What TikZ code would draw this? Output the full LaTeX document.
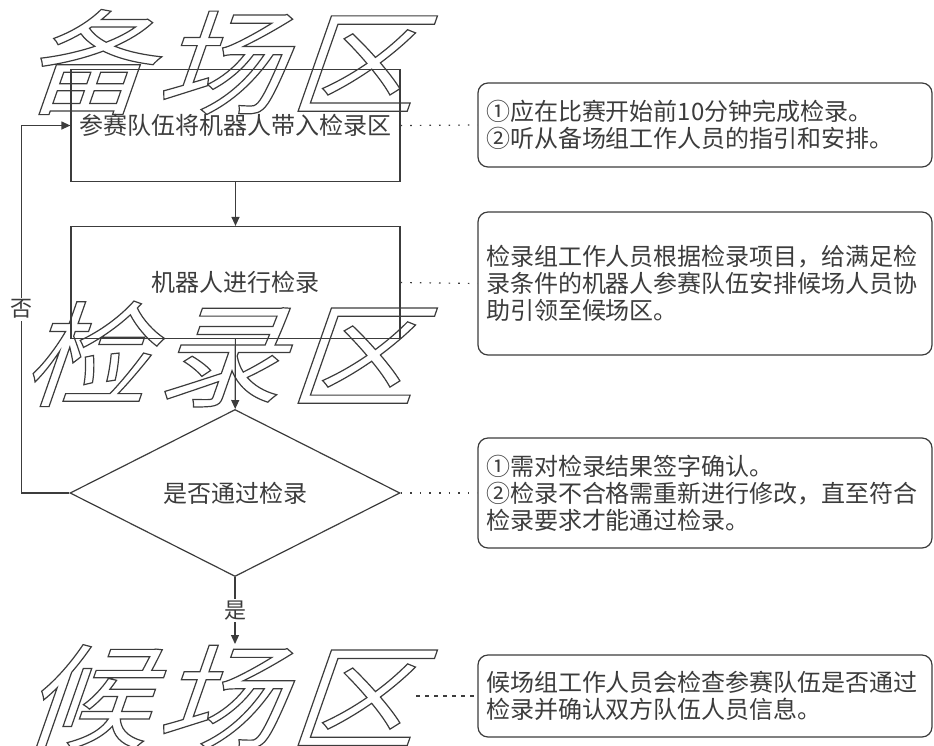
\documentclass[tikz,border=0pt]{standalone}
\usepackage{fontspec}
\usepackage{color}
\usepackage{tikz}
\usetikzlibrary{shapes.geometric,arrows.meta}
\setmainfont{Noto Sans CJK SC}
\newfontfamily\zonefont[FakeSlant=0.35, FakeStretch=1.12]{Noto Sans CJK SC}
\definecolor{inkgray}{HTML}{3C3C3C}
% hollow letters for the zone titles
\newcommand{\zonetext}[1]{\special{pdf:literal direct 1 Tr 0.6 w}#1\special{pdf:literal direct 0 Tr}}

\begin{document}
\begin{tikzpicture}[x=0.5pt, y=-0.5pt, inkgray, line width=0.6pt,
    >={Triangle[length=4.5pt,width=4pt]},
    stepbox/.style={draw, inner sep=0pt, minimum width=164.5pt, minimum height=56pt, font=\fontsize{12}{14}\selectfont},
    checkbox/.style={draw, diamond, aspect=2, inner sep=0pt, minimum width=165pt, minimum height=83.5pt, font=\fontsize{12}{14}\selectfont},
    notebox/.style={draw, rounded corners=5pt, text width=219pt, inner xsep=4pt, align=left, font=\fontsize{12}{13.5}\selectfont},
    zone/.style={inner sep=0pt, font=\zonefont\fontsize{57}{60}\selectfont},
    yesno/.style={fill=white, inner sep=1pt, font=\fontsize{11}{12}\selectfont},
    dotline/.style={dash pattern=on 0.8pt off 4pt},
    dashline/.style={dash pattern=on 2pt off 2.5pt}]
    \useasboundingbox (0,0) rectangle (934,746);

    % flow
    \node[stepbox] (enter) at (235.5,125.5) {参赛队伍将机器人带入检录区};
    \node[stepbox] (inspect) at (235.5,282.5) {机器人进行检录};
    \node[checkbox] (check) at (235,493) {是否通过检录};

    % notes
    \node[notebox, minimum height=42pt] (note1) at (705,125) {①应在比赛开始前10分钟完成检录。\\②听从备场组工作人员的指引和安排。};
    \node[notebox, minimum height=71.5pt] (note2) at (705,283.5) {检录组工作人员根据检录项目，给满足检\\录条件的机器人参赛队伍安排候场人员协\\助引领至候场区。};
    \node[notebox, minimum height=55pt] (note3) at (705,493) {①需对检录结果签字确认。\\②检录不合格需重新进行修改，直至符合\\检录要求才能通过检录。};
    \node[notebox, minimum height=41pt] (note4) at (705,696) {候场组工作人员会检查参赛队伍是否通过\\检录并确认双方队伍人员信息。};

    % zone titles
    \node[zone] (prepzone) at (218,62) {\zonetext{备\hspace{3pt}场\hspace{3pt}区}};
    \node[zone] (checkzone) at (218,354) {\zonetext{检\hspace{3pt}录\hspace{3pt}区}};
    \node[zone, anchor=north] (waitzone) at (218,644) {\zonetext{候\hspace{3pt}场\hspace{3pt}区}};

    \draw[->] (enter) -- (inspect);
    \draw[->] (inspect) -- (check);
    \draw[->] (check.south) -- node[yesno] {是} (check.south |- waitzone.north);
    \draw[->] (check.west) -- ++(-48,0) |- node[yesno, pos=0.25] {否} (enter.west);

    \draw[dotline] (enter.east) -- (note1.west);
    \draw[dotline] (inspect.east) -- (note2.west);
    \draw[dotline] (check.east) -- (note3.west);
    \draw[dashline] (waitzone.east |- note4.west) -- (note4.west);
\end{tikzpicture}
\end{document}
